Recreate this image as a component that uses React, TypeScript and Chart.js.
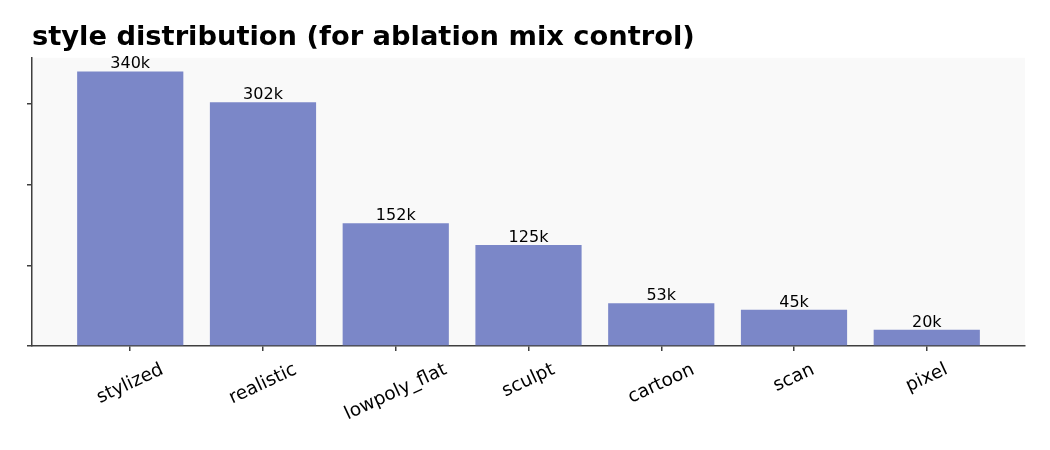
import { useEffect, useRef } from 'react';
import { Chart, registerables } from 'chart.js';

Chart.register(...registerables);

const styles = ['stylized', 'realistic', 'lowpoly_flat', 'sculpt', 'cartoon', 'scan', 'pixel'];
const counts = [340, 302, 152, 125, 53, 45, 20]; // thousands
const yTicks = [0, 100, 200, 300];

const BAR = '#7b87c8';
const AXIS = '#3f3f3f';
const FONT = '"DejaVu Sans", sans-serif';

const plotBg = {
  id: 'plotBg',
  beforeDraw(chart: any) {
    const { ctx, chartArea: a } = chart;
    ctx.save();
    ctx.fillStyle = '#f9f9f9';
    ctx.fillRect(a.left, a.top, a.right - a.left, a.bottom - a.top);
    ctx.restore();
  },
};

const barLabels = {
  id: 'barLabels',
  afterDatasetsDraw(chart: any) {
    const { ctx } = chart;
    const meta = chart.getDatasetMeta(0);
    ctx.save();
    ctx.font = `16px ${FONT}`;
    ctx.fillStyle = '#000';
    ctx.textAlign = 'center';
    ctx.textBaseline = 'alphabetic';
    meta.data.forEach((bar: any, i: number) => {
      ctx.fillText(`${counts[i]}k`, bar.x, bar.y - 3);
    });
    ctx.restore();
  },
};

// matplotlib-like rotated labels, centred under each tick
const xLabels = {
  id: 'xLabels',
  afterDraw(chart: any) {
    const { ctx, chartArea: a } = chart;
    const xs = chart.scales.x;
    const ang = (25 * Math.PI) / 180;
    const size = 18.5;
    ctx.save();
    ctx.font = `${size}px ${FONT}`;
    ctx.fillStyle = '#000';
    ctx.textAlign = 'center';
    ctx.textBaseline = 'middle';
    styles.forEach((s, i) => {
      const x = xs.getPixelForValue(i);
      const w = ctx.measureText(s).width;
      const h = size * 1.17;
      const bh = w * Math.sin(ang) + h * Math.cos(ang);
      const top = a.bottom + 13;
      ctx.save();
      ctx.translate(x, top + bh / 2);
      ctx.rotate(-ang);
      ctx.fillText(s, 0, 0);
      ctx.restore();
    });
    ctx.restore();
  },
};

export default function App() {
  const ref = useRef<HTMLCanvasElement>(null);

  useEffect(() => {
    document.body.style.margin = '0';
    if (!ref.current) return;
    const chart = new Chart(ref.current, {
      type: 'bar',
      data: {
        datasets: [
          {
            data: counts.map((v, i) => ({ x: i, y: v })),
            backgroundColor: BAR,
            barPercentage: 0.8,
            categoryPercentage: 1,
          },
        ],
      },
      options: {
        responsive: false,
        animation: false,
        layout: { padding: { left: 27, right: 25, top: 0, bottom: 99 } },
        plugins: {
          legend: { display: false },
          tooltip: { enabled: false },
          title: {
            display: true,
            text: 'style distribution (for ablation mix control)',
            align: 'start',
            fullSize: false,
            color: '#000',
            font: { family: FONT, size: 27.3, weight: 'bold' },
            padding: { top: 22, bottom: 3 },
          },
        },
        scales: {
          x: {
            type: 'linear',
            offset: false,
            min: -0.74,
            max: 6.74,
            afterBuildTicks: (axis: any) => {
              axis.ticks = styles.map((_, i) => ({ value: i }));
            },
            ticks: { display: false },
            grid: { offset: false, drawOnChartArea: false, drawTicks: true, tickLength: 5, color: AXIS, lineWidth: 1.5 },
            border: { color: AXIS, width: 1.5 },
          },
          y: {
            min: 0,
            max: 357,
            afterBuildTicks: (axis: any) => {
              axis.ticks = yTicks.map((v) => ({ value: v }));
            },
            ticks: { display: false },
            grid: { drawOnChartArea: false, drawTicks: true, tickLength: 5, color: AXIS, lineWidth: 1.5 },
            border: { color: AXIS, width: 1.5 },
          },
        },
      },
      plugins: [plotBg, barLabels, xLabels],
    });
    return () => chart.destroy();
  }, []);

  return (
    <div style={{ width: 1050, height: 450, background: '#fff' }}>
      <canvas ref={ref} width={1050} height={450} />
    </div>
  );
}
